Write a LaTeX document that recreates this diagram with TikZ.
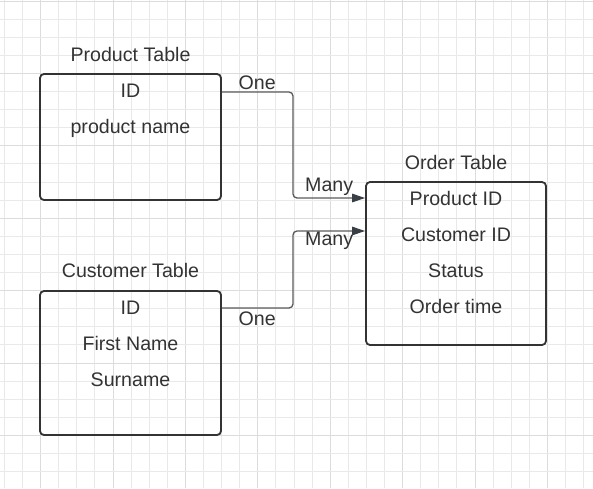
\documentclass[tikz,border=0pt]{standalone}
\usepackage{fontspec}
\setmainfont{Liberation Sans}
\usetikzlibrary{arrows.meta,positioning}
\definecolor{inkgray}{HTML}{333333}
\definecolor{linkgray}{HTML}{5A5A5A}
\definecolor{tipgray}{HTML}{3A3F45}
\definecolor{gridminor}{HTML}{E9E9E9}
\definecolor{gridmajor}{HTML}{DCDCDC}

\begin{document}
\begin{tikzpicture}[x=1pt,y=-1pt,
    every node/.style={font=\fontsize{19.6}{23}\selectfont,text=inkgray,inner sep=0pt},
    tablebox/.style={draw=inkgray,line width=1.8pt,rounded corners=4pt},
    field/.style={anchor=base},
    tabletitle/.style={anchor=base},
    cardinality/.style={anchor=base west},
    link/.style={draw=linkgray,line width=1.3pt,rounded corners=4pt,
                 -{Triangle[length=13pt,width=8.5pt,color=tipgray]}}]
   \useasboundingbox (0,0) rectangle (593,488);
   % background grid
   \foreach \k in {0,...,32} {
      \pgfmathsetmacro{\gx}{4.3+18.1*\k}
      \pgfmathtruncatemacro{\gm}{mod(\k,4)}
      \ifnum\gm=2 \draw[gridmajor,line width=0.8pt] (\gx,0) -- (\gx,488);
      \else \draw[gridminor,line width=0.8pt] (\gx,0) -- (\gx,488); \fi
   }
   \foreach \k in {0,...,27} {
      \pgfmathsetmacro{\gy}{0.9+18.1*\k}
      \pgfmathtruncatemacro{\gm}{mod(\k,4)}
      \ifnum\gm=0 \draw[gridmajor,line width=0.8pt] (0,\gy) -- (593,\gy);
      \else \draw[gridminor,line width=0.8pt] (0,\gy) -- (593,\gy); \fi
   }
   % tables
   \node[tablebox,minimum width=181pt,minimum height=126pt] (prod) at (130.5,137) {};
   \node[tablebox,minimum width=181pt,minimum height=144pt] (cust) at (130.5,363) {};
   \node[tablebox,minimum width=180pt,minimum height=163pt] (order) at (456,263.5) {};
   \node[tabletitle] (prodtitle) at (130.5,61) {Product Table};
   \node[tabletitle] (custtitle) at (130.5,277.5) {Customer Table};
   \node[tabletitle] (ordertitle) at (456,169) {Order Table};
   % fields
   \node[field] (prodid)   at (130.5,97.5)  {ID};
   \node[field] (prodname) at (130.5,133.5) {product name};
   \node[field] (custid)    at (130.5,314)  {ID};
   \node[field] (custfirst) at (130.5,350)  {First Name};
   \node[field] (custlast)  at (130.5,386)  {Surname};
   \node[field] (ordprod)   at (456,205)    {Product ID};
   \node[field] (ordcust)   at (456,241)    {Customer ID};
   \node[field] (ordstatus) at (456,277)    {Status};
   \node[field] (ordtime)   at (456,313)    {Order time};
   % relations
   \coordinate (bendtop) at (293,92);
   \coordinate (bendbot) at (293,308);
   \draw[link] (prod.east |- bendtop) -- (bendtop) |- (order.west |- 0,198);
   \draw[link] (cust.east |- bendbot) -- (bendbot) |- (order.west |- 0,231);
   \node[cardinality] (onetop)  at (238.5,89.5) {One};
   \node[cardinality] (manytop) at (305,191)    {Many};
   \node[cardinality] (manybot) at (305,245)    {Many};
   \node[cardinality] (onebot)  at (238.5,325)  {One};
\end{tikzpicture}
\end{document}
